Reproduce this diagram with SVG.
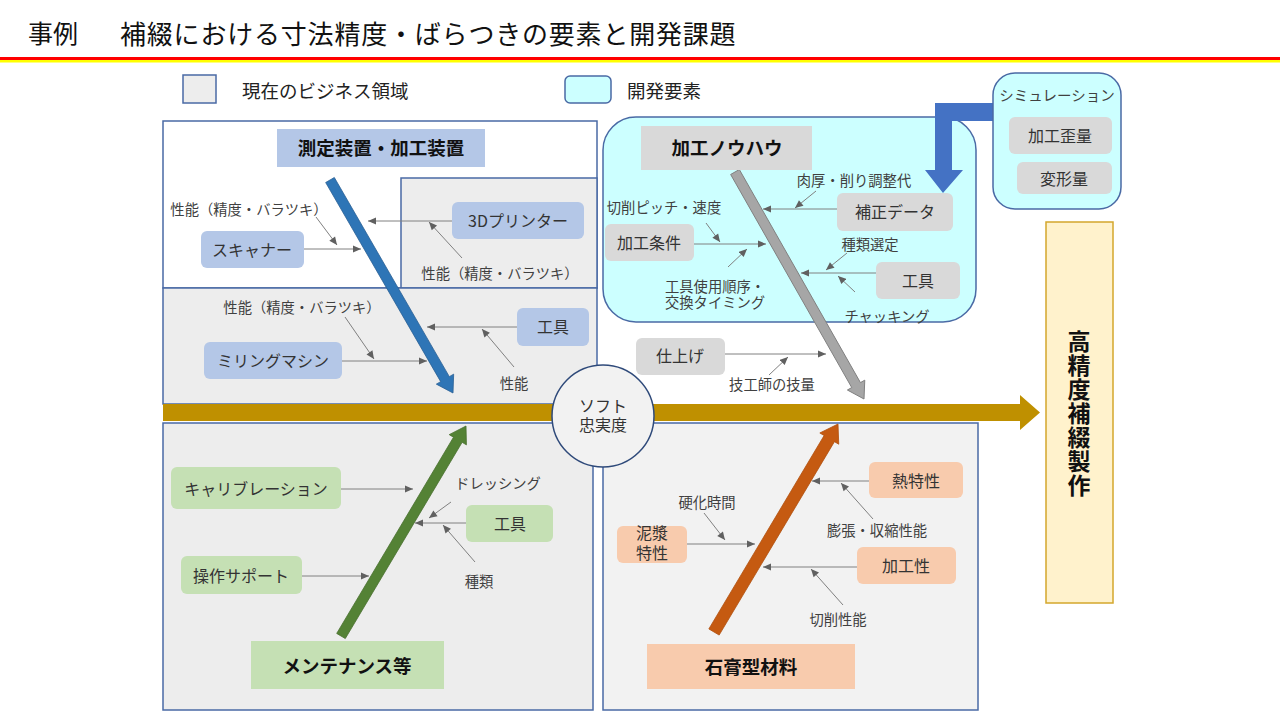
<svg xmlns="http://www.w3.org/2000/svg" width="1280" height="719" viewBox="0 0 1280 719">
<defs>
<marker id="ah" viewBox="0 0 10 10" refX="10" refY="5" markerWidth="9" markerHeight="8" markerUnits="userSpaceOnUse" orient="auto"><path d="M0,0.5 L10,5 L0,9.5 z" fill="#606060"/></marker>
<style>
text{font-family:"Noto Sans CJK JP","Noto Sans",sans-serif;dominant-baseline:central;text-anchor:middle;fill:#333}
.region{stroke:#4a6aa5;stroke-width:1.5}
.lbl{font-size:14.3px;fill:#404040}
.bt{font-size:16px;fill:#333}
.hd{font-size:18.5px;font-weight:bold;fill:#111}
.sm{stroke:#808080;stroke-width:1;fill:none;marker-end:url(#ah)}
.bb{fill:#b4c7e7}
.gb{fill:#d9d9d9}
.grb{fill:#c5e0b4}
.ob{fill:#f8cbad}
</style>
</defs>
<rect width="1280" height="719" fill="#fff"/>

<g id="title">
<text x="28" y="32" style="text-anchor:start;font-size:25px;fill:#111">事例</text>
<text x="120" y="32" style="text-anchor:start;font-size:26px;letter-spacing:0.8px;fill:#111">補綴における寸法精度・ばらつきの要素と開発課題</text>
<rect x="0" y="57" width="1280" height="3" fill="#ff0000"/>
<rect x="0" y="60" width="1280" height="2.5" fill="#ffff00"/>
</g>

<g id="legend">
<rect x="183" y="75" width="33" height="28" fill="#ededed" class="region"/>
<text x="242" y="90" style="text-anchor:start;font-size:18.5px;fill:#222">現在のビジネス領域</text>
<rect x="565" y="76" width="46" height="27" rx="5" fill="#ccffff" class="region"/>
<text x="627" y="90" style="text-anchor:start;font-size:18.5px;fill:#222">開発要素</text>
</g>

<g id="region-measure">
<rect x="163" y="121" width="434" height="167" fill="#fff" class="region"/>
<rect x="401" y="178" width="196" height="110" fill="#ededed" class="region"/>
<rect x="163" y="288" width="434" height="116" fill="#ededed" class="region"/>
</g>

<g id="region-knowhow">
<rect x="603" y="117" width="373" height="205" rx="33" fill="#ccffff" class="region"/>
</g>

<g id="region-maint">
<rect x="163" y="423" width="430" height="287" fill="#ededed" class="region"/>
</g>

<g id="region-material">
<rect x="603" y="423" width="375" height="287" fill="#f2f2f2" class="region"/>
</g>

<g id="spine">
<path d="M163,404 L1020,404 L1020,395 L1040,412.5 L1020,430 L1020,421 L163,421 Z" fill="#bf9000"/>
</g>

<g id="bone-measure">
<polygon points="325.67,182.5 440.67,381.64 436.34,384.14 453,393 453.66,374.14 449.33,376.64 334.33,177.5" fill="#2e75b6" stroke="#2a5f94" stroke-width="0.8"/>
</g>
<g id="bone-knowhow">
<polygon points="730.65,174.47 851.74,387.56 847.40,390.03 864,399 864.78,380.15 860.44,382.62 739.35,169.53" fill="#a6a6a6" stroke="#808080" stroke-width="1"/>
</g>
<g id="bone-maint">
<polygon points="345.30,638.56 462.12,442.31 466.41,444.87 466,426 449.23,434.64 453.52,437.19 336.70,633.44" fill="#548235" stroke="#476f2d" stroke-width="0.8"/>
</g>
<g id="bone-material">
<polygon points="719.15,635.07 834.44,441.67 838.74,444.23 838,424 819.84,432.97 824.14,435.53 708.85,628.93" fill="#c55a11" stroke="#b04f0e" stroke-width="0.8"/>
</g>

<g id="connectors">
<line class="sm" x1="304" y1="249" x2="361" y2="249"/>
<line class="sm" x1="316" y1="217" x2="337" y2="245"/>
<line class="sm" x1="452" y1="221" x2="368" y2="221"/>
<line class="sm" x1="462" y1="258" x2="429" y2="222"/>
<line class="sm" x1="342" y1="361" x2="427" y2="361"/>
<line class="sm" x1="345" y1="317" x2="374" y2="359"/>
<line class="sm" x1="517" y1="327" x2="427" y2="327"/>
<line class="sm" x1="514" y1="367" x2="482" y2="329"/>

<line class="sm" x1="837" y1="209" x2="763" y2="209"/>
<line class="sm" x1="816" y1="191" x2="795" y2="208"/>
<line class="sm" x1="694" y1="244" x2="766" y2="244"/>
<line class="sm" x1="706" y1="223" x2="720" y2="242"/>
<line class="sm" x1="728" y1="267" x2="747" y2="249"/>
<line class="sm" x1="876" y1="273" x2="801" y2="273"/>
<line class="sm" x1="847" y1="253" x2="826" y2="270"/>
<line class="sm" x1="855" y1="292" x2="838" y2="276"/>
<line class="sm" x1="725" y1="354" x2="826" y2="354"/>
<line class="sm" x1="769" y1="375" x2="788" y2="357"/>

<line class="sm" x1="341" y1="489" x2="413" y2="489"/>
<line class="sm" x1="302" y1="576" x2="369" y2="576"/>
<line class="sm" x1="466" y1="523" x2="415" y2="523"/>
<line class="sm" x1="451" y1="502" x2="429" y2="518"/>
<line class="sm" x1="475" y1="562" x2="443" y2="525"/>

<line class="sm" x1="869" y1="481" x2="812" y2="481"/>
<line class="sm" x1="873" y1="519" x2="841" y2="483"/>
<line class="sm" x1="687" y1="544" x2="755" y2="544"/>
<line class="sm" x1="704" y1="513" x2="725" y2="540"/>
<line class="sm" x1="857" y1="567" x2="763" y2="567"/>
<line class="sm" x1="843" y1="605" x2="811" y2="569"/>
</g>

<g id="node-measure-header">
<rect x="277" y="129" width="208" height="38" class="bb"/>
<text x="381" y="147" class="hd">測定装置・加工装置</text>
</g>
<g id="node-scanner">
<rect x="201" y="231" width="103" height="37" rx="6" class="bb"/>
<text x="252" y="249" class="bt">スキャナー</text>
</g>
<g id="node-3dprinter">
<rect x="452" y="202" width="132" height="37" rx="6" class="bb"/>
<text x="518" y="220" class="bt">3Dプリンター</text>
</g>
<g id="node-milling">
<rect x="204" y="342" width="138" height="37" rx="6" class="bb"/>
<text x="273" y="360" class="bt">ミリングマシン</text>
</g>
<g id="node-tool-blue">
<rect x="517" y="308" width="72" height="38" rx="6" class="bb"/>
<text x="553" y="326" class="bt">工具</text>
</g>
<g id="labels-measure">
<text x="249" y="208" class="lbl">性能（精度・バラツキ）</text>
<text x="500" y="272" class="lbl">性能（精度・バラツキ）</text>
<text x="302" y="306" class="lbl">性能（精度・バラツキ）</text>
<text x="514" y="382" class="lbl">性能</text>
</g>

<g id="node-knowhow-header">
<rect x="641" y="126" width="171" height="44" class="gb"/>
<text x="727" y="147" class="hd">加工ノウハウ</text>
</g>
<g id="node-correction">
<rect x="837" y="193" width="116" height="38" rx="6" class="gb"/>
<text x="895" y="211" class="bt">補正データ</text>
</g>
<g id="node-condition">
<rect x="605" y="224" width="89" height="37" rx="6" class="gb"/>
<text x="649" y="242" class="bt">加工条件</text>
</g>
<g id="node-tool-gray">
<rect x="876" y="262" width="84" height="37" rx="6" class="gb"/>
<text x="918" y="280" class="bt">工具</text>
</g>
<g id="node-finish">
<rect x="636" y="338" width="89" height="37" rx="6" class="gb"/>
<text x="680" y="355" class="bt">仕上げ</text>
</g>
<g id="labels-knowhow">
<text x="854" y="179" class="lbl">肉厚・削り調整代</text>
<text x="664" y="206" class="lbl">切削ピッチ・速度</text>
<text x="870" y="243" class="lbl">種類選定</text>
<text class="lbl" style="text-anchor:start"><tspan x="665" y="285">工具使用順序・</tspan><tspan x="665" y="301">交換タイミング</tspan></text>
<text x="887" y="315" class="lbl">チャッキング</text>
<text x="772" y="383" class="lbl">技工師の技量</text>
</g>

<g id="sim-arrow">
<path d="M993,103 L935,103 L935,170 L925,170 L943,193 L963,170 L952,170 L952,121 L993,121 Z" fill="#4472c4"/>
</g>
<g id="node-simulation">
<rect x="993" y="73" width="128" height="136" rx="22" fill="#ccffff" class="region"/>
<text x="1057" y="94" style="font-size:14.5px;fill:#404040">シミュレーション</text>
<rect x="1009" y="117" width="103" height="37" rx="6" class="gb"/>
<text x="1060" y="135" class="bt">加工歪量</text>
<rect x="1017" y="162" width="95" height="32" rx="6" class="gb"/>
<text x="1064" y="178" class="bt">変形量</text>
</g>

<g id="node-soft">
<circle cx="603" cy="416" r="51" fill="#f2f2f2" stroke="#2f4a7a" stroke-width="1.5"/>
<text style="font-size:16px;fill:#333"><tspan x="603" y="405">ソフト</tspan><tspan x="603" y="424">忠実度</tspan></text>
</g>

<g id="node-result">
<rect x="1046" y="222" width="67" height="381" fill="#fff2cc" stroke="#d4a72c" stroke-width="1.5"/>
<text x="1079" y="330" style="writing-mode:vertical-rl;text-anchor:start;font-size:23px;font-weight:bold;letter-spacing:1px;fill:#111">高精度補綴製作</text>
</g>

<g id="node-calibration">
<rect x="171" y="467" width="170" height="42" rx="6" class="grb"/>
<text x="256" y="488" class="bt">キャリブレーション</text>
</g>
<g id="node-operation">
<rect x="181" y="556" width="121" height="38" rx="6" class="grb"/>
<text x="241" y="575" class="bt">操作サポート</text>
</g>
<g id="node-tool-green">
<rect x="466" y="505" width="87" height="37" rx="6" class="grb"/>
<text x="510" y="523" class="bt">工具</text>
</g>
<g id="node-maint-header">
<rect x="251" y="641" width="193" height="48" class="grb"/>
<text x="347" y="665" class="hd">メンテナンス等</text>
</g>
<g id="labels-maint">
<text x="498" y="482" class="lbl">ドレッシング</text>
<text x="479" y="580" class="lbl">種類</text>
</g>

<g id="node-thermal">
<rect x="869" y="462" width="94" height="36" rx="6" class="ob"/>
<text x="916" y="480" class="bt">熱特性</text>
</g>
<g id="node-slurry">
<rect x="617" y="526" width="70" height="37" rx="6" class="ob"/>
<text class="bt"><tspan x="652" y="532">泥漿</tspan><tspan x="652" y="552">特性</tspan></text>
</g>
<g id="node-machinability">
<rect x="857" y="547" width="99" height="37" rx="6" class="ob"/>
<text x="906" y="565" class="bt">加工性</text>
</g>
<g id="node-material-header">
<rect x="647" y="644" width="208" height="45" class="ob"/>
<text x="751" y="666" class="hd">石膏型材料</text>
</g>
<g id="labels-material">
<text x="707" y="501" class="lbl">硬化時間</text>
<text x="877" y="529" class="lbl">膨張・収縮性能</text>
<text x="838" y="618" class="lbl">切削性能</text>
</g>
</svg>
